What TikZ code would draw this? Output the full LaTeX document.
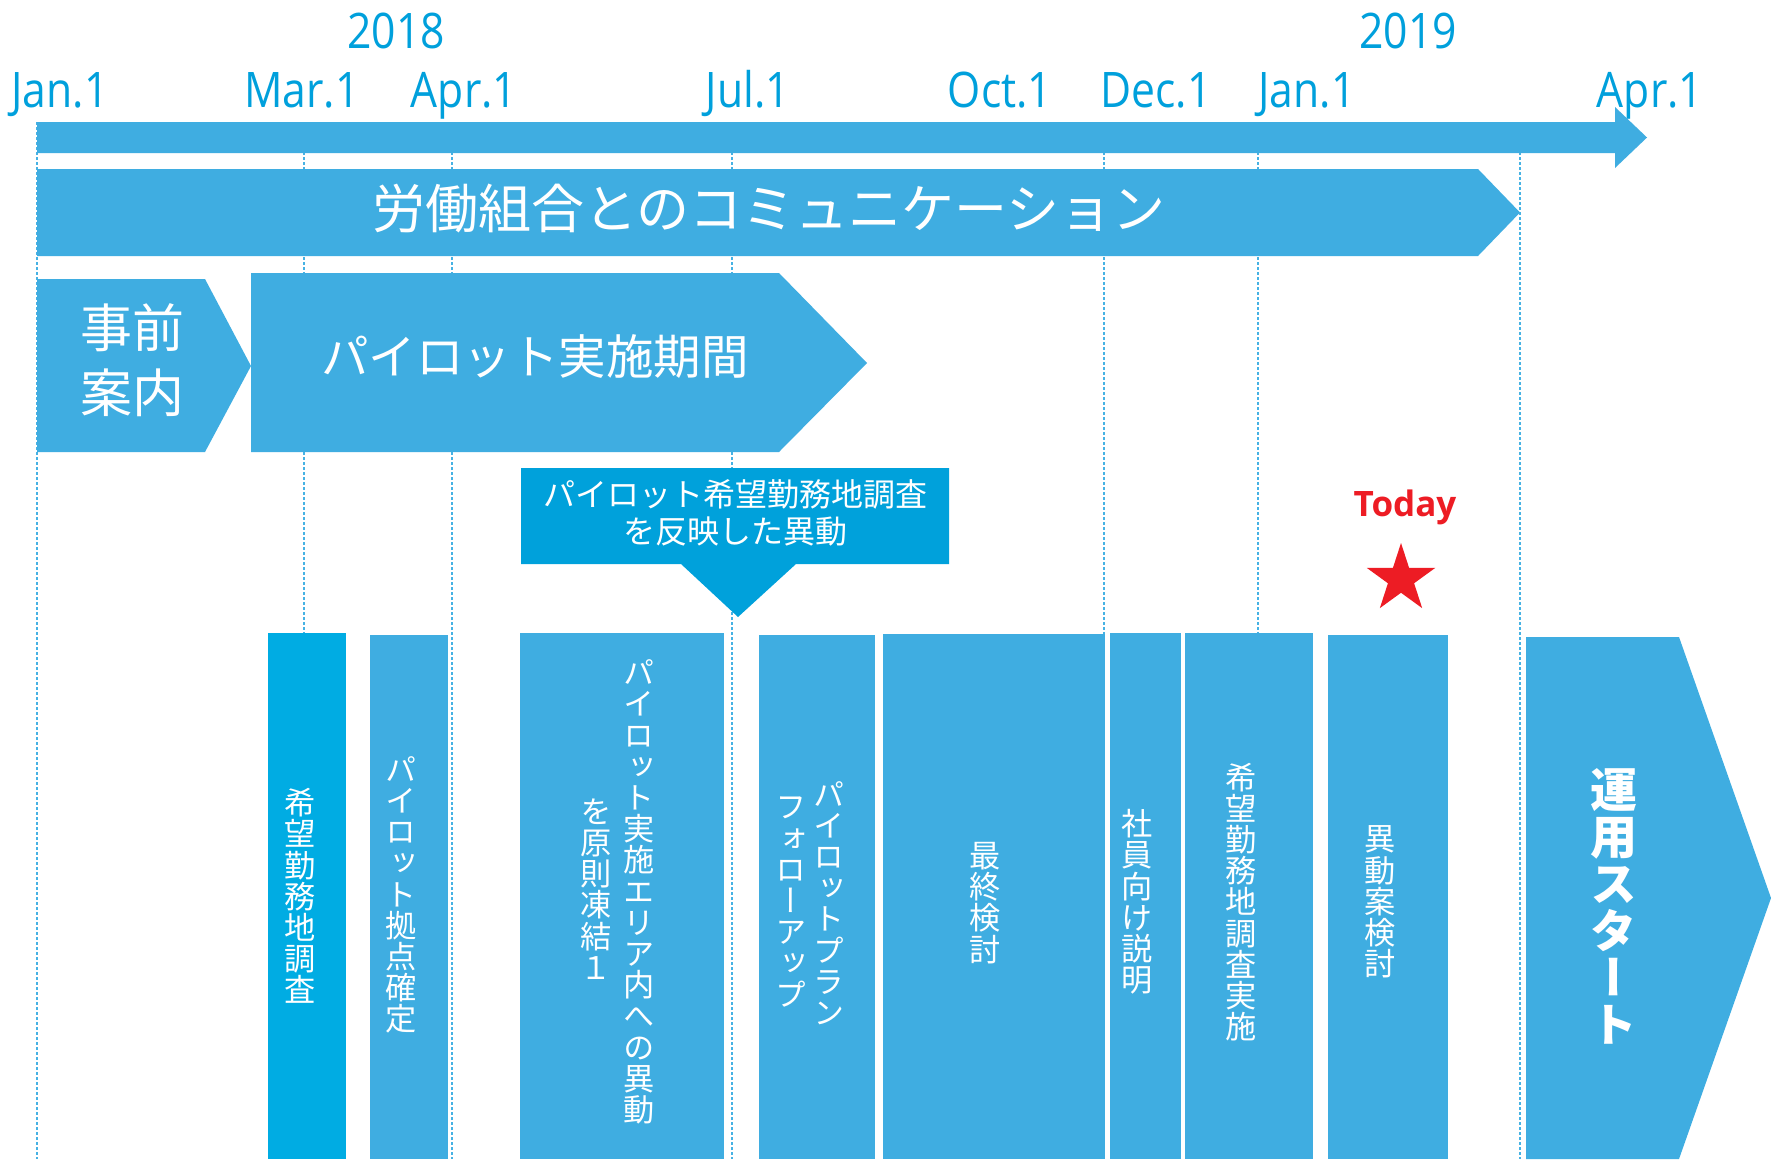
\documentclass[tikz,border=0pt]{standalone}
\usepackage{fontspec}
\usetikzlibrary{shapes.geometric}
\newfontfamily\jp{Noto Sans CJK JP}
\newfontfamily\vjp[RawFeature=+vert]{Noto Sans CJK JP}
\newfontfamily\lab[FakeStretch=0.87]{Open Sans}
\newfontfamily\todayfont{Open Sans}
\definecolor{mainblue}{RGB}{63,173,225}
\definecolor{deepblue}{RGB}{0,172,227}
\definecolor{callblue}{RGB}{0,161,219}
\definecolor{labelblue}{RGB}{0,160,220}
\definecolor{guideblue}{RGB}{70,178,228}
\definecolor{todayred}{RGB}{237,28,36}
\ExplSyntaxOn
\NewDocumentCommand\vstack{m}{
  \vbox{\baselineskip=1em \lineskiplimit=-100pt \lineskip=0pt
    \tl_map_inline:nn {#1} {\hbox_to_wd:nn {1em} {\hss ##1 \hss}}}
}
\ExplSyntaxOff
\begin{document}
\begin{tikzpicture}[x=1pt,y=-1pt,
  guide/.style={draw=guideblue, line width=1.3pt, dash pattern=on 3pt off 2pt},
  mlabel/.style={text=labelblue, font=\lab\fontsize{49}{49}\selectfont, anchor=base, inner sep=0},
  vt/.style={text=white, font=\vjp, inner sep=0},
  ht/.style={text=white, font=\jp, inner sep=0, align=center},
]
\fill[white] (0,0) rectangle (1771,1159);
\useasboundingbox (0,0) rectangle (1771,1159);

% guide lines
\foreach \gx/\nm in {37/gjan,304/gmar,452/gapr,732/gjul,1104/gdec,1258/gjan2,1520/gapr2}{
  \coordinate (\nm t) at (\gx,122);
  \coordinate (\nm b) at (\gx,1159);
  \draw[guide] (\nm t) -- (\nm b);
}

% labels
\node[mlabel] (y2018) at (396,48) {2018};
\node[mlabel] (y2019) at (1408,48) {2019};
\node[mlabel] (ljan) at (60,107) {Jan.1};
\node[mlabel] (lmar) at (302,107) {Mar.1};
\node[mlabel] (lapr) at (464,107) {Apr.1};
\node[mlabel] (ljul) at (748,107) {Jul.1};
\node[mlabel] (loct) at (1000,107) {Oct.1};
\node[mlabel] (ldec) at (1156,107) {Dec.1};
\node[mlabel] (ljan2) at (1307,107) {Jan.1};
\node[mlabel] (lapr2) at (1650,107) {Apr.1};

% timeline arrow
\fill[mainblue] (37,122) -- (1615,122) -- (1615,107) -- (1647,137.5) -- (1615,168) -- (1615,153) -- (37,153) -- cycle;

% communication bar
\fill[mainblue] (37,169) -- (1478,169) -- (1520,212.5) -- (1478,256) -- (37,256) -- cycle;
\node[ht, font=\jp\fontsize{53}{53}\selectfont] (comm) at (769,208) {労働組合とのコミュニケーション};

% pre-announcement
\fill[mainblue] (37,279) -- (205,279) -- (251,366) -- (205,452) -- (37,452) -- cycle;
\node[ht, font=\jp\fontsize{52}{65}\selectfont] (pre) at (132,360) {事前\\案内};

% pilot period
\fill[mainblue] (251,273) -- (779,273) -- (867,363) -- (779,452) -- (251,452) -- cycle;
\node[ht, font=\jp\fontsize{47.5}{47.5}\selectfont] (pilot) at (535,357) {パイロット実施期間};

% callout
\fill[callblue] (521,468) -- (949,468) -- (949,564) -- (796,564) -- (738,617) -- (681,564) -- (521,564) -- cycle;
\node[ht, font=\jp\fontsize{32}{37}\selectfont] (call) at (735,513) {パイロット希望勤務地調査\\を反映した異動};

% Today
\node[text=todayred, font=\todayfont\bfseries\fontsize{35}{35}\selectfont, anchor=base, inner sep=0] (today) at (1405,516) {Today};
\node[star, star points=5, star point ratio=2.618, fill=todayred, draw=none, minimum size=72pt, inner sep=0] (star) at (1401,579) {};

% bottom boxes
\fill[deepblue] (268,633) rectangle (346,1159);
\fill[mainblue] (370,635) rectangle (448,1159);
\fill[mainblue] (520,633) rectangle (724,1159);
\fill[mainblue] (759,635) rectangle (875,1159);
\fill[mainblue] (883,634) rectangle (1105,1159);
\fill[mainblue] (1110,633) rectangle (1181,1159);
\fill[mainblue] (1185,633) rectangle (1313,1159);
\fill[mainblue] (1328,635) rectangle (1448,1159);
\fill[mainblue] (1526,637) -- (1679,637) -- (1771,898) -- (1679,1159) -- (1526,1159) -- cycle;

\node[vt] (tA) at (300,896) {\fontsize{31.2}{31.2}\selectfont\vstack{希望勤務地調査}};
\node[vt] (tB) at (401,895) {\fontsize{31.2}{31.2}\selectfont\vstack{パイロット拠点確定}};
\node[vt] (tC1) at (639,892) {\fontsize{31.2}{31.2}\selectfont\vstack{パイロット実施エリア内への異動}};
\node[vt] (tC2) at (596,889) {\fontsize{31.2}{31.2}\selectfont\vstack{を原則凍結１}};
\node[vt] (tD1) at (829,903) {\fontsize{31.2}{31.2}\selectfont\vstack{パイロットプラン}};
\node[vt] (tD2) at (791,902) {\fontsize{31.2}{31.2}\selectfont\vstack{フォローアップ}};
\node[vt] (tE) at (985,903) {\fontsize{31.2}{31.2}\selectfont\vstack{最終検討}};
\node[vt] (tF) at (1137,902) {\fontsize{31.2}{31.2}\selectfont\vstack{社員向け説明}};
\node[vt] (tG) at (1241,902) {\fontsize{31.2}{31.2}\selectfont\vstack{希望勤務地調査実施}};
\node[vt] (tH) at (1380,902) {\fontsize{31.2}{31.2}\selectfont\vstack{異動案検討}};
\node[vt] (tI) at (1614,906) {\bfseries\fontsize{47}{47}\selectfont\vstack{運用スタート}};
\end{tikzpicture}
\end{document}
